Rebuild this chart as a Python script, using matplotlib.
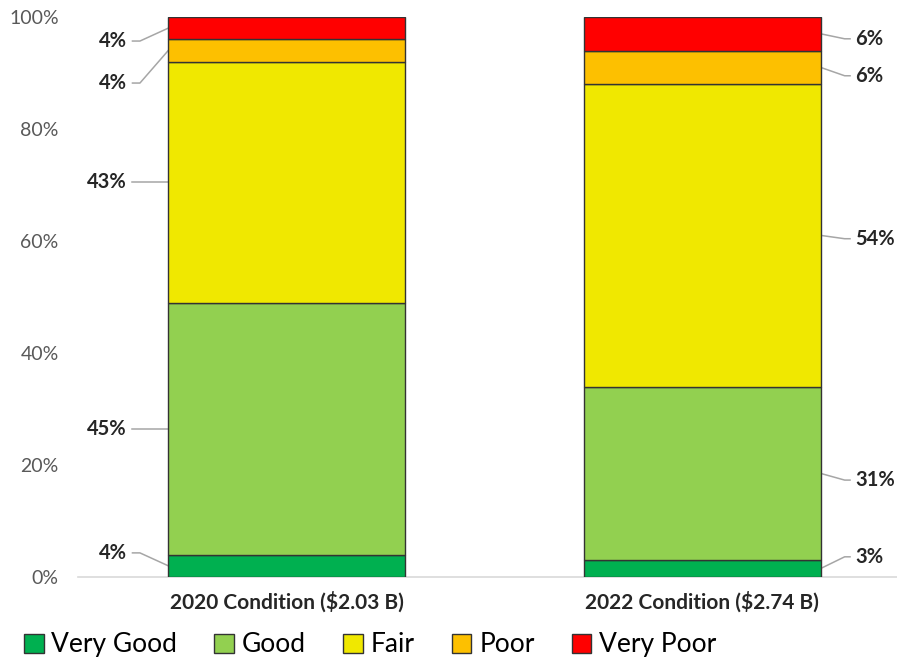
import matplotlib
matplotlib.use("Agg")
import matplotlib.pyplot as plt
from matplotlib.patches import Patch
from matplotlib.ticker import FuncFormatter

plt.rcParams["font.family"] = ["Lato", "DejaVu Sans"]

# ---------------- Data ----------------
conditions = ["Very Good", "Good", "Fair", "Poor", "Very Poor"]
years = ["2020 Condition ($2.03 B)", "2022 Condition ($2.74 B)"]
share_2020 = [4, 45, 43, 4, 4]
share_2022 = [3, 31, 54, 6, 6]
colors = ["#00B050", "#92D050", "#F0E800", "#FDC000", "#FF0000"]

# nudges (in % points) so the labels of thin segments don't collide
nudge_2020 = [2.3, 0, 0, -5.8, -2.3]
nudge_2022 = [2.1, -1.2, -0.6, -1.5, -0.9]

# ---------------- Plot ----------------
fig = plt.figure(figsize=(8.97, 6.6), dpi=100)
ax = fig.add_axes([0.087, 0.1258, 0.913, 0.8485])

x = [0, 1]
width = 0.57
series = [share_2020, share_2022]
bottoms = [0, 0]
for i, cond in enumerate(conditions):
    vals = [s[i] for s in series]
    ax.bar(x, vals, width, bottom=bottoms, color=colors[i],
           edgecolor="#333333", linewidth=1, label=cond, zorder=3)
    bottoms = [b + v for b, v in zip(bottoms, vals)]

# value labels with leader lines: 2020 on the left, 2022 on the right
def label_bar(xc, vals, nudges, side, run, tail, gap):
    edge = xc + side * width / 2
    elbow = edge + side * run
    end = elbow + side * tail
    tx = end + side * gap
    base = 0
    for v, n in zip(vals, nudges):
        mid = base + v / 2
        ty = mid + n
        ax.plot([edge, elbow, end], [mid, ty, ty], color="#A6A6A6",
                lw=1.1, zorder=2, clip_on=False)
        ax.text(tx, ty, f"{v}%", ha="right" if side < 0 else "left",
                va="center", fontsize=14.5, fontweight="bold", color="#262626")
        base += v

label_bar(0, share_2020, nudge_2020, -1, 0.068, 0.018, 0.014)
label_bar(1, share_2022, nudge_2022, 1, 0.058, 0.013, 0.012)

ax.set_xlim(-0.502, 1.469)
ax.set_ylim(0, 100)
ax.set_yticks(range(0, 101, 20))
ax.yaxis.set_major_formatter(FuncFormatter(lambda v, p: f"{v:.0f}%"))
ax.tick_params(axis="y", length=0, pad=14, labelsize=14, labelcolor="#595959")
ax.set_xticks(x)
ax.set_xticklabels(years, fontweight="bold", fontsize=15, color="#262626")
ax.tick_params(axis="x", length=0, pad=10)

for s in ["top", "right", "left"]:
    ax.spines[s].set_visible(False)
ax.spines["bottom"].set_color("#D9D9D9")
ax.spines["bottom"].set_linewidth(1.2)

handles = [Patch(facecolor=c, edgecolor="#333333", label=l) for c, l in zip(colors, conditions)]
fig.legend(handles=handles, loc="lower left", bbox_to_anchor=(0.0, -0.032), ncol=5,
           frameon=False, fontsize=19, handlelength=0.75, handleheight=0.75,
           handletextpad=0.3, columnspacing=1.4)

fig.savefig("out.png", dpi=100)
